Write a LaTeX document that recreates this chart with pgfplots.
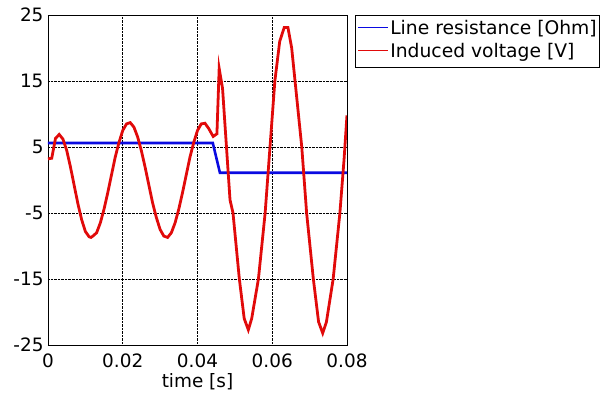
\documentclass[border=0pt]{standalone}
\usepackage{pgfplots}
\pgfplotsset{compat=1.18}
\usepackage{fontspec}
\setmainfont{DejaVu Sans}
\definecolor{myblue}{RGB}{10,10,225}
\definecolor{myred}{RGB}{225,10,10}
\begin{document}
\begin{tikzpicture}
\path[use as bounding box] (-48bp,-54bp) rectangle (554bp,345bp);
\begin{axis}[
  scale only axis,
  width=299bp, height=330bp,
  xmin=0, xmax=0.08, ymin=-25, ymax=25,
  scaled x ticks=false,
  xtick={0,0.02,0.04,0.06,0.08},
  xticklabels={0,0.02,0.04,0.06,0.08},
  ytick={-25,-15,-5,5,15,25},
  yticklabels={-25,-15,-5,5,15,25},
  major tick length=0pt,
  grid=major,
  major grid style={black, densely dotted, line width=0.6pt},
  axis line style={black, line width=0.8pt},
  tick label style={font=\fontsize{18.5}{21}\selectfont},
  xticklabel style={yshift=-5bp},
  yticklabel style={xshift=-1bp},
  xlabel={time [s]},
  xlabel style={font=\fontsize{18.5}{21}\selectfont, yshift=1bp},
]
\addplot[draw=myblue, line width=2.6pt, forget plot] coordinates {
 (0,5.6) (0.0441,5.6) (0.046,1.1) (0.08,1.1)
};
\addplot[draw=myred, line width=2.8pt, forget plot] coordinates {
 (0,3.2) (0.001,3.3) (0.002,6.3) (0.003,6.9) (0.004,6.2) (0.005,4.5) (0.006,2.0)
 (0.007,-0.8) (0.008,-3.6) (0.009,-6.0) (0.010,-7.8) (0.011,-8.6) (0.0115,-8.7)
 (0.012,-8.5) (0.013,-8.0) (0.014,-6.5) (0.015,-4.4) (0.016,-1.9) (0.017,0.8)
 (0.018,3.5) (0.019,5.7) (0.020,7.5) (0.021,8.5) (0.022,8.7) (0.023,8.0)
 (0.024,6.5) (0.025,4.4) (0.026,1.9) (0.027,-0.8) (0.028,-3.5) (0.029,-5.7)
 (0.030,-7.5) (0.031,-8.5) (0.032,-8.7) (0.033,-8.0) (0.034,-6.5) (0.035,-4.4)
 (0.036,-1.9) (0.037,0.8) (0.038,3.5) (0.039,5.7) (0.040,7.5) (0.041,8.5)
 (0.042,8.6) (0.043,7.8) (0.0442,6.6) (0.0452,7.0) (0.0458,16.9) (0.0467,13.9)
 (0.0487,-3.0) (0.0495,-5.0) (0.0512,-15.0) (0.0525,-21.0) (0.0536,-22.7)
 (0.0545,-21.0) (0.0563,-15.0) (0.0581,-5.0) (0.0594,5.0) (0.0607,15.0)
 (0.0620,21.0) (0.0632,23.1) (0.0642,23.1) (0.0652,20.0) (0.0661,15.0)
 (0.0679,5.0) (0.0692,-5.0) (0.0710,-15.0) (0.0724,-21.5) (0.0735,-23.2)
 (0.0745,-21.5) (0.0763,-15.0) (0.0781,-5.0) (0.0792,3.0) (0.08,9.8)
};
\end{axis}
\node[draw=black, line width=0.6pt, fill=white, anchor=north west, inner sep=3bp,
  font=\fontsize{18.8}{23}\selectfont] at (307bp,330bp) {%
  \begin{tabular}{@{}l@{\hspace{2bp}}l@{}}
  {\color{myblue}\rule[0.32em]{30bp}{1.2pt}} & Line resistance [Ohm]\\
  {\color{myred}\rule[0.32em]{30bp}{1.2pt}} & Induced voltage [V]
  \end{tabular}};
\end{tikzpicture}
\end{document}
